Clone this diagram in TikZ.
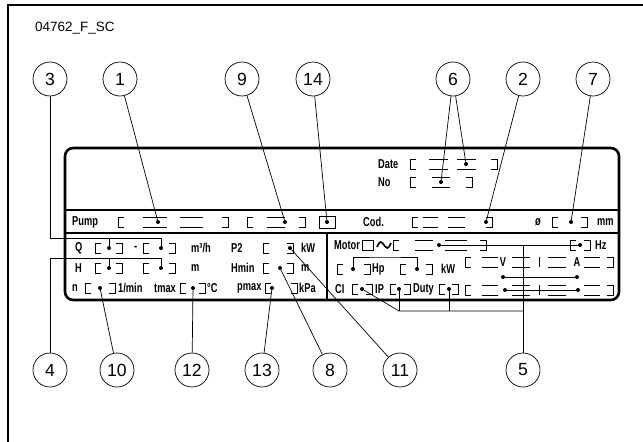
\documentclass[tikz,border=0pt]{standalone}
\usepackage{fontspec}
\setmainfont{Liberation Sans}
\newfontfamily\platefont[FakeStretch=0.72]{Liberation Sans}
\newcommand\fld[3]{% brackets of a field: left x, right x, y
  \draw[fl] (#1+6,#3-5) -- (#1,#3-5) -- (#1,#3+5) -- (#1+6,#3+5);
  \draw[fl] (#2-6,#3-5) -- (#2,#3-5) -- (#2,#3+5) -- (#2-6,#3+5);
}
\newcommand\seg[3]{% top and bottom strokes inside a field
  \draw[fl] (#1,#3-5) -- (#2,#3-5) (#1,#3+5) -- (#2,#3+5);
}
\begin{document}
\begin{tikzpicture}[x=0.03cm,y=-0.03cm]
    \tikzset{
    num/.style={circle,draw,line width=0.6pt,minimum size=1.02cm,inner sep=0pt,font=\fontsize{15}{15}\selectfont},
    lbl/.style={anchor=west,inner sep=0pt,font=\platefont\bfseries\fontsize{11}{11}\selectfont},
    dot/.style={circle,fill,inner sep=0pt,minimum size=0.12cm},
    ld/.style={line width=0.6pt},
    fl/.style={line width=0.6pt},
    rim/.style={line width=2.2pt},
    }
    \useasboundingbox (0,0) rectangle (643,441);
    \draw[line width=1.4pt] (8,5) rectangle (680,480);
    \node[anchor=west,inner sep=0pt,font=\fontsize{11.5}{11.5}\selectfont] (title) at (35,28) {04762\_F\_SC};

    % plate
    \draw[rim,rounded corners=7pt] (65,148) rectangle (619,300);
    \draw[rim] (65,210) -- (619,210) (65,233) -- (619,233) (327,233) -- (327,300);

    % top row
    \node[lbl] (date) at (378,164) {Date};
    \node[lbl] (no) at (378,182) {No};
    \fld{410}{497}{164} \seg{429}{448}{164} \seg{457}{476}{164}
    \fld{410}{472}{182} \seg{432}{450}{182}
    \node[dot] (dDate) at (466,164) {};
    \node[dot] (dNo) at (441,182) {};

    % pump row
    \node[lbl] (pump) at (72,222) {Pump};
    \fld{118}{228}{222} \seg{143}{167}{222} \seg{180}{203}{222}
    \fld{247}{305}{222} \seg{267}{285}{222}
    \draw[fl] (319,216) rectangle (335,228);
    \node[lbl] (cod) at (363,222) {Cod.};
    \fld{412}{492}{222} \seg{423}{438}{222} \seg{448}{465}{222}
    \node[lbl] (dia) at (535,222) {ø};
    \fld{552}{587}{222}
    \node[lbl] (mm) at (597,222) {mm};
    \node[dot] (dPump) at (158,222) {};
    \node[dot] (dPump2) at (285,222) {};
    \node[dot] (dBox) at (327,222) {};
    \node[dot] (dCod) at (486,222) {};
    \node[dot] (dDia) at (571,222) {};

    % left block
    \node[lbl] (q) at (75,248) {Q};
    \fld{95}{122}{248} \node[lbl] (dash) at (134,248) {-}; \fld{143}{175}{248}
    \node[lbl] (m3h) at (191,248) {m³/h};
    \node[lbl] (p2) at (231,248) {P2};
    \fld{263}{293}{248}
    \node[lbl] (kw1) at (301,248) {kW};
    \node[lbl] (h) at (75,268) {H};
    \fld{95}{122}{268} \fld{143}{175}{268}
    \node[lbl] (m1) at (191,268) {m};
    \node[lbl] (hmin) at (231,268) {Hmin};
    \fld{263}{293}{268}
    \node[lbl] (m2) at (301,268) {m};
    \node[lbl] (n) at (72,288) {n};
    \fld{85}{115}{288}
    \node[lbl] (min) at (118,288) {1/min};
    \node[lbl] (tmax) at (154,288) {tmax};
    \fld{180}{205}{288}
    \node[lbl] (degc) at (207,288) {°C};
    \node[lbl] (pmax) at (237,288) {pmax};
    \fld{265}{297}{288}
    \node[lbl] (kpa) at (299,288) {kPa};
    \node[dot] (dQ1) at (109,248) {};
    \node[dot] (dQ2) at (161,248) {};
    \node[dot] (dP2) at (290,248) {};
    \node[dot] (dH1) at (109,268) {};
    \node[dot] (dH2) at (161,268) {};
    \node[dot] (dHmin) at (280,268) {};
    \node[dot] (dN) at (100,288) {};
    \node[dot] (dTmax) at (193,288) {};
    \node[dot] (dPmax) at (272,288) {};

    % right block
    \node[lbl] (motor) at (334,245) {Motor};
    \draw[fl] (362,240) rectangle (373,250);
    \draw[line width=1.4pt] (377,247) sin (380.5,242) cos (384,245) sin (387.5,248) cos (391,243);
    \fld{393}{486}{245} \seg{415}{433}{245} \seg{445}{467}{245}
    \fld{570}{590}{245}
    \node[lbl] (hz) at (595,245) {Hz};
    \fld{337}{370}{269}
    \node[lbl] (hp) at (372,269) {Hp};
    \fld{400}{432}{269}
    \node[lbl] (kw2) at (441,269) {kW};
    \fld{465}{613}{262} \seg{482}{498}{262} \seg{512}{530}{262} \seg{548}{566}{262} \seg{584}{600}{262}
    \draw[fl] (539,257) -- (539,267);
    \node[lbl,anchor=center] (v) at (503,262) {V};
    \node[lbl,anchor=center] (a) at (577,262) {A};
    \fld{465}{613}{290} \seg{482}{498}{290} \seg{512}{530}{290} \seg{548}{566}{290} \seg{584}{600}{290}
    \draw[fl] (539,285) -- (539,295);
    \node[lbl] (ci) at (335,289) {CI};
    \fld{352}{372}{289}
    \node[lbl] (ip) at (375,289) {IP};
    \fld{390}{410}{289}
    \node[lbl] (duty) at (413,289) {Duty};
    \fld{439}{458}{289}
    \node[dot] (dMot) at (439,245) {};
    \node[dot] (dHz) at (580,245) {};
    \node[dot] (dHp) at (353,269) {};
    \node[dot] (dKw) at (417,269) {};
    \node[dot] (dV1) at (503,277) {};
    \node[dot] (dA1) at (577,277) {};
    \node[dot] (dV2) at (505,290) {};
    \node[dot] (dA2) at (578,290) {};
    \node[dot] (dCI) at (362,289) {};
    \node[dot] (dIP) at (399,289) {};
    \node[dot] (dDuty) at (449,289) {};

    % callouts
    \node[num] (c3) at (50,79) {3};
    \node[num] (c1) at (120,79) {1};
    \node[num] (c9) at (242,79) {9};
    \node[num] (c14) at (313,79) {14};
    \node[num] (c6) at (453,79) {6};
    \node[num] (c2) at (523,79) {2};
    \node[num] (c7) at (593,79) {7};
    \node[num] (c4) at (50,370) {4};
    \node[num] (c10) at (117,370) {10};
    \node[num] (c12) at (192,370) {12};
    \node[num] (c13) at (262,370) {13};
    \node[num] (c8) at (330,370) {8};
    \node[num] (c11) at (400,370) {11};
    \node[num] (c5) at (523,370) {5};

    \coordinate (j3) at (161,238);
    \coordinate (j4) at (161,258);
    \coordinate (jHp) at (385,257);
    \coordinate (j5) at (399,311);

    \draw[ld] (c3) |- (j3) -- (dQ2);
    \draw[ld] (dQ1) -- (dQ1 |- j3);
    \draw[ld] (c4) |- (j4) -- (dH2);
    \draw[ld] (dH1) -- (dH1 |- j4);
    \draw[ld] (c1) -- (dPump);
    \draw[ld] (c9) -- (dPump2);
    \draw[ld] (c14) -- (dBox);
    \draw[ld] (c6) -- (dNo);
    \draw[ld] (c6) -- (dDate);
    \draw[ld] (c2) -- (dCod);
    \draw[ld] (c7) -- (dDia);
    \draw[ld] (c10) -- (dN);
    \draw[ld] (c12) -- (dTmax);
    \draw[ld] (c13) -- (dPmax);
    \draw[ld] (c8) -- (dHmin);
    \draw[ld] (c11) -- (dP2);
    \draw[ld] (dMot) -- (dHz);
    \draw[ld] (dHp) |- (jHp) -| (dKw);
    \draw[ld] (dV1) -- (dA1);
    \draw[ld] (dV2) -- (dA2);
    \draw[ld] (c5) -- (c5 |- dMot);
    \draw[ld] (dCI) -- (j5) -- (c5 |- j5);
    \draw[ld] (dIP) -- (j5);
    \draw[ld] (dDuty) -- (dDuty |- j5);
\end{tikzpicture}
\end{document}
